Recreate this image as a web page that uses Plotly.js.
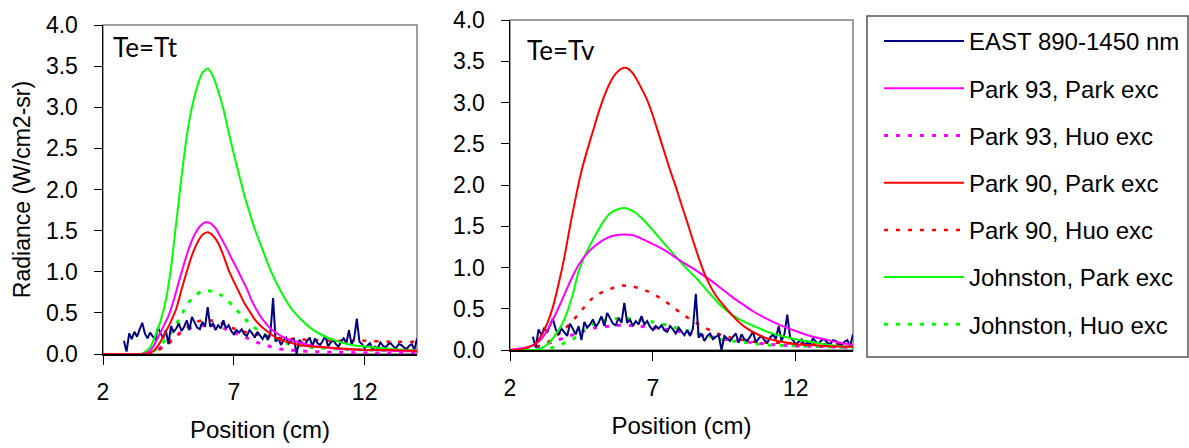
<!DOCTYPE html>
<html>
<head>
<meta charset="utf-8">
<script src="https://cdn.plot.ly/plotly-3.0.1.min.js"></script>
<style>
  html, body { margin: 0; padding: 0; background: #ffffff; }
  #chart { width: 1189px; height: 448px; }
</style>
</head>
<body>
<div id="chart"></div>
<script>
// ---------- Data ----------
var panelTitles = ["Te=Tt", "Te=Tv"];
var seriesNames = ["EAST 890-1450 nm", "Park 93, Park exc", "Park 93, Huo exc",
                   "Park 90, Park exc", "Park 90, Huo exc", "Johnston, Park exc", "Johnston, Huo exc"];
var xTickVals = [2, 7, 12];

// EAST measurement (same in both panels)
var eastX = [2.8,2.9,3.0,3.1,3.2,3.3,3.4,3.5,3.6,3.7,3.8,3.9,4.0,4.1,4.2,4.3,4.4,4.5,4.6,4.7,4.8,4.9,
  5.0,5.1,5.2,5.3,5.4,5.5,5.6,5.7,5.8,5.9,6.0,6.1,6.2,6.3,6.4,6.5,6.6,6.7,6.8,6.9,
  7.0,7.1,7.2,7.3,7.4,7.5,7.6,7.7,7.8,7.9,8.0,8.1,8.2,8.3,8.4,8.5,8.6,8.7,8.8,8.9,
  9.0,9.1,9.2,9.3,9.4,9.5,9.6,9.7,9.8,9.9,10.0,10.1,10.2,10.3,10.4,10.5,10.6,10.7,10.8,10.9,
  11.0,11.1,11.2,11.3,11.4,11.5,11.6,11.7,11.8,11.9,12.0,12.1,12.2,12.3,12.4,12.5,12.6,12.7,12.8,12.9,
  13.0,13.1,13.2,13.3,13.4,13.5,13.6,13.7,13.8,13.9,14.0];
var eastY = [0.16,0.03,0.25,0.18,0.27,0.21,0.30,0.38,0.25,0.19,0.26,0.22,0.17,0.32,0.26,0.19,0.29,0.12,0.34,0.27,0.31,0.37,
  0.28,0.33,0.41,0.29,0.45,0.38,0.32,0.30,0.39,0.33,0.57,0.33,0.37,0.29,0.35,0.31,0.41,0.31,0.35,0.28,
  0.24,0.29,0.26,0.30,0.24,0.22,0.29,0.25,0.20,0.27,0.23,0.18,0.24,0.17,0.26,0.68,0.15,0.20,0.11,0.17,
  0.20,0.13,0.16,0.18,0.00,0.17,0.14,0.11,0.16,0.20,0.09,0.19,0.13,0.11,0.16,0.22,0.09,0.14,0.17,0.12,
  0.09,0.15,0.19,0.13,0.29,0.11,0.19,0.43,0.15,0.12,0.07,0.10,0.13,0.06,0.09,0.07,0.14,0.10,0.08,0.12,
  0.13,0.09,0.07,0.12,0.11,0.08,0.06,0.10,0.12,0.05,0.19];

// ----- Left panel (Te=Tt) -----
var tt_p93park_x = [2.0,3.5,3.7,3.9,4.1,4.3,4.5,4.7,4.9,5.1,5.3,5.5,5.7,5.9,6.1,6.3,6.5,6.7,6.9,7.1,7.3,7.5,7.7,7.9,8.1,8.4,8.7,9.0,9.5,10.0,10.5,11.0,12.0,13.0,14.0];
var tt_p93park_y = [0,0,0.02,0.08,0.2,0.33,0.46,0.65,0.88,1.1,1.3,1.45,1.55,1.6,1.59,1.53,1.42,1.3,1.17,1.05,0.92,0.79,0.64,0.52,0.42,0.31,0.24,0.19,0.14,0.1,0.08,0.06,0.05,0.04,0.03];
var tt_p93huo_x = [3.7,4.0,4.3,4.6,4.9,5.2,5.5,5.8,6.1,6.4,6.7,7.0,7.4,7.8,8.2,8.6,9.0,9.5,10.0,11.0,12.0,13.0,14.0];
var tt_p93huo_y = [0,0.04,0.1,0.18,0.25,0.3,0.33,0.35,0.35,0.33,0.3,0.26,0.21,0.15,0.11,0.07,0.05,0.04,0.03,0.02,0.015,0.01,0.01];
var tt_p90park_x = [2.0,3.6,3.8,4.0,4.2,4.4,4.6,4.8,5.0,5.2,5.4,5.6,5.8,6.0,6.2,6.4,6.6,6.8,7.0,7.2,7.4,7.6,7.8,8.0,8.3,8.6,9.0,9.5,10.0,11.0,12.0,13.0,14.0];
var tt_p90park_y = [0,0,0.01,0.06,0.15,0.27,0.4,0.55,0.78,1.0,1.2,1.35,1.45,1.48,1.44,1.35,1.2,1.02,0.88,0.75,0.62,0.52,0.42,0.35,0.27,0.2,0.15,0.11,0.09,0.07,0.05,0.05,0.04];
var tt_p90huo_x = [3.7,4.0,4.3,4.6,4.9,5.2,5.5,5.8,6.1,6.4,6.7,7.0,7.4,7.8,8.2,8.6,9.0,9.5,10.0,11.0,12.0,13.0,14.0];
var tt_p90huo_y = [0,0.03,0.08,0.15,0.24,0.32,0.38,0.41,0.41,0.39,0.35,0.31,0.27,0.24,0.22,0.2,0.19,0.18,0.17,0.16,0.16,0.15,0.15];
var tt_jpark_x = [2.0,3.0,3.5,3.8,4.0,4.2,4.4,4.6,4.8,5.0,5.2,5.4,5.6,5.8,6.0,6.2,6.4,6.6,6.8,7.0,7.2,7.4,7.6,7.8,8.0,8.4,8.8,9.2,9.6,10.0,10.5,11.0,11.5,12.0,13.0,14.0];
var tt_jpark_y = [0,0,0.005,0.08,0.22,0.4,0.65,1.05,1.6,2.15,2.65,3.0,3.25,3.42,3.47,3.38,3.2,2.98,2.7,2.43,2.18,1.93,1.72,1.52,1.35,1.02,0.76,0.55,0.41,0.3,0.21,0.15,0.11,0.09,0.06,0.04];
var tt_jhuo_x = [3.5,3.9,4.2,4.5,4.7,5.0,5.2,5.5,5.75,6.0,6.25,6.45,6.7,6.95,7.3,7.6,8.0,8.5,9.0,9.5,10.0,11.0,12.0,13.0,14.0];
var tt_jhuo_y = [0,0.03,0.1,0.22,0.31,0.47,0.6,0.7,0.76,0.77,0.76,0.73,0.67,0.59,0.47,0.37,0.27,0.18,0.13,0.1,0.08,0.06,0.05,0.04,0.04];

// ----- Right panel (Te=Tv) -----
var tv_p93park_x = [2.0,2.4,2.8,3.0,3.2,3.4,3.6,3.8,4.0,4.2,4.4,4.6,4.8,5.0,5.2,5.4,5.7,6.0,6.3,6.6,6.9,7.2,7.5,7.8,8.1,8.4,8.7,9.0,9.3,9.6,9.9,10.2,10.5,10.8,11.2,11.6,12.0,12.5,13.0,13.5,14.0];
var tv_p93park_y = [0,0.02,0.06,0.1,0.18,0.3,0.44,0.59,0.75,0.9,1.03,1.13,1.21,1.27,1.32,1.36,1.39,1.4,1.39,1.35,1.3,1.25,1.19,1.12,1.05,0.99,0.92,0.85,0.77,0.69,0.61,0.54,0.47,0.41,0.34,0.28,0.23,0.17,0.13,0.09,0.06];
var tv_p93huo_x = [2.5,3.0,3.5,4.0,4.5,5.0,5.5,6.0,6.5,7.0,7.5,8.0,8.5,9.0,9.5,10.0,10.5,11.0,12.0,13.0,14.0];
var tv_p93huo_y = [0.01,0.04,0.1,0.16,0.22,0.27,0.29,0.3,0.29,0.27,0.25,0.22,0.19,0.16,0.13,0.11,0.09,0.07,0.05,0.04,0.03];
var tv_p90park_x = [2.0,2.4,2.7,2.9,3.1,3.3,3.5,3.7,3.9,4.1,4.3,4.5,4.7,4.9,5.1,5.3,5.5,5.7,5.9,6.05,6.2,6.4,6.6,6.8,7.0,7.2,7.4,7.6,7.8,8.0,8.2,8.4,8.6,8.8,9.0,9.2,9.4,9.6,9.8,10.0,10.3,10.6,11.0,11.5,12.0,12.5,13.0,14.0];
var tv_p90park_y = [0,0.01,0.04,0.08,0.18,0.32,0.52,0.8,1.12,1.5,1.85,2.17,2.42,2.65,2.88,3.08,3.24,3.35,3.41,3.42,3.39,3.3,3.17,3.03,2.84,2.62,2.4,2.18,1.98,1.76,1.55,1.33,1.12,0.93,0.78,0.66,0.57,0.49,0.41,0.34,0.26,0.2,0.14,0.1,0.07,0.06,0.05,0.04];
var tv_p90huo_x = [2.5,3.0,3.4,3.8,4.16,4.43,4.8,5.1,5.5,5.88,6.3,6.69,7.0,7.35,7.7,8.01,8.4,8.71,9.12,9.5,10.0,10.5,11.0,12.0,13.0,14.0];
var tv_p90huo_y = [0.01,0.05,0.11,0.22,0.34,0.45,0.6,0.68,0.74,0.78,0.77,0.73,0.68,0.61,0.52,0.44,0.35,0.29,0.22,0.17,0.13,0.1,0.09,0.08,0.07,0.07];
var tv_jpark_x = [2.0,2.8,3.0,3.2,3.4,3.6,3.8,4.0,4.2,4.4,4.6,4.8,5.0,5.2,5.4,5.6,5.8,6.0,6.2,6.4,6.6,6.8,7.0,7.4,7.8,8.2,8.6,9.0,9.4,9.8,10.2,10.6,11.0,11.5,12.0,12.5,13.0,13.5,14.0];
var tv_jpark_y = [0,0,0.01,0.04,0.1,0.19,0.3,0.46,0.68,0.95,1.13,1.27,1.4,1.52,1.62,1.68,1.71,1.72,1.7,1.66,1.6,1.53,1.45,1.29,1.13,0.98,0.84,0.68,0.53,0.42,0.34,0.28,0.22,0.17,0.13,0.1,0.07,0.05,0.04];
var tv_jhuo_x = [3.0,3.4,3.8,4.2,4.6,5.0,5.4,5.8,6.2,6.6,7.0,7.5,8.0,8.5,9.0,9.5,10.0,10.5,11.0,12.0,13.0,14.0];
var tv_jhuo_y = [0,0.02,0.07,0.13,0.25,0.33,0.37,0.38,0.38,0.36,0.34,0.3,0.25,0.21,0.16,0.12,0.1,0.08,0.06,0.05,0.04,0.03];

// ---------- Styles ----------
var cNavy = "#000080", cMag = "#ff00ff", cRed = "#ff0000", cGreen = "#00ff00";
var dotDash = "4px,8px";

function tr(x, y, name, color, width, dash, ax, show, smooth) {
  return {
    type: "scatter", mode: "lines", x: x, y: y, name: name,
    xaxis: ax[0], yaxis: ax[1],
    legendgroup: name, showlegend: show,
    line: { color: color, width: width, dash: dash || "solid", shape: smooth ? "spline" : "linear", smoothing: 0.6 },
    hoverinfo: "x+y+name"
  };
}

var A1 = ["x", "y"], A2 = ["x2", "y2"];
var data = [
  // left panel
  tr(tt_p93huo_x, tt_p93huo_y, seriesNames[2], cMag, 3, dotDash, A1, false, true),
  tr(tt_p90huo_x, tt_p90huo_y, seriesNames[4], cRed, 2.5, dotDash, A1, false, true),
  tr(tt_jhuo_x, tt_jhuo_y, seriesNames[6], cGreen, 3, dotDash, A1, false, true),
  tr(eastX, eastY, seriesNames[0], cNavy, 2, null, A1, false, false),
  tr(tt_jpark_x, tt_jpark_y, seriesNames[5], cGreen, 2, null, A1, false, true),
  tr(tt_p93park_x, tt_p93park_y, seriesNames[1], cMag, 2, null, A1, false, true),
  tr(tt_p90park_x, tt_p90park_y, seriesNames[3], cRed, 2, null, A1, false, true),
  // right panel (these carry the legend)
  tr(tv_p93huo_x, tv_p93huo_y, seriesNames[2], cMag, 3, dotDash, A2, true, true),
  tr(tv_p90huo_x, tv_p90huo_y, seriesNames[4], cRed, 2.5, dotDash, A2, true, true),
  tr(tv_jhuo_x, tv_jhuo_y, seriesNames[6], cGreen, 3, dotDash, A2, true, true),
  tr(eastX, eastY, seriesNames[0], cNavy, 2, null, A2, true, false),
  tr(tv_jpark_x, tv_jpark_y, seriesNames[5], cGreen, 2, null, A2, true, true),
  tr(tv_p93park_x, tv_p93park_y, seriesNames[1], cMag, 2, null, A2, true, true),
  tr(tv_p90park_x, tv_p90park_y, seriesNames[3], cRed, 2, null, A2, true, true)
];

// legend order as in the reference
var order = {};
seriesNames.forEach(function (n, i) { order[n] = i; });
data.forEach(function (t) { t.legendrank = order[t.name] + 1; });

var W = 1189, H = 448;
function px(v) { return v / W; }
function py(v) { return 1 - v / H; }

var fontMain = "'Liberation Sans', Arial, sans-serif";
function xAxis(dom, anchor) {
  return {
    domain: dom, anchor: anchor, range: [2, 14], tickvals: xTickVals,
    ticks: "outside", ticklen: 9, tickwidth: 1, tickcolor: "#000",
    showline: true, linecolor: "#000", linewidth: 1.5, showgrid: false, zeroline: false,
    tickfont: { family: fontMain, size: 23, color: "#000" }, ticklabelstandoff: 8,
    title: { text: "Position (cm)", font: { family: fontMain, size: 24, color: "#000" }, standoff: 17 },
    fixedrange: true
  };
}
function yAxis(dom, anchor, title) {
  var a = {
    domain: dom, anchor: anchor, range: [0, 4.0], dtick: 0.5, tick0: 0, tickformat: ".1f",
    ticks: "outside", ticklen: 8, tickwidth: 1, tickcolor: "#000",
    showline: true, linecolor: "#000", linewidth: 1.5, showgrid: false, zeroline: false,
    tickfont: { family: fontMain, size: 23, color: "#000" }, ticklabelstandoff: 11,
    fixedrange: true
  };
  if (title) a.title = { text: title, font: { family: fontMain, size: 23, color: "#000" }, standoff: 9 };
  return a;
}

var layout = {
  width: W, height: H,
  margin: { l: 0, r: 0, t: 0, b: 0 },
  paper_bgcolor: "#ffffff", plot_bgcolor: "rgba(0,0,0,0)",
  showlegend: true,
  xaxis: xAxis([px(103), px(417)], "y"),
  yaxis: yAxis([1 - 354 / H, 1 - 25 / H], "x", "Radiance (W/cm2-sr)"),
  xaxis2: xAxis([px(510), px(853)], "y2"),
  yaxis2: yAxis([1 - 350 / H, 1 - 20 / H], "x2", null),
  legend: {
    x: px(879), y: py(19), xanchor: "left", yanchor: "top",
    bgcolor: "rgba(0,0,0,0)", borderwidth: 0,
    traceorder: "grouped", tracegroupgap: 13, itemwidth: 80,
    font: { family: fontMain, size: 24, color: "#000" }
  },
  shapes: [
    // grey plot frames (top and right edges)
    { type: "rect", xref: "x domain", yref: "y domain", x0: 0, x1: 1, y0: 0, y1: 1,
      line: { color: "#808080", width: 1.5 }, layer: "below" },
    { type: "rect", xref: "x2 domain", yref: "y2 domain", x0: 0, x1: 1, y0: 0, y1: 1,
      line: { color: "#808080", width: 1.5 }, layer: "below" },
    // legend box
    { type: "rect", xref: "paper", yref: "paper", x0: px(867), x1: px(1188), y0: py(357), y1: py(16),
      line: { color: "#555555", width: 1.5 } }
  ],
  annotations: [
    { text: panelTitles[0], xref: "paper", yref: "paper", x: px(111), y: py(47), xanchor: "left", yanchor: "middle",
      showarrow: false, font: { family: "Lato, 'Open Sans', sans-serif", size: 26, color: "#000" } },
    { text: panelTitles[1], xref: "paper", yref: "paper", x: px(525), y: py(50), xanchor: "left", yanchor: "middle",
      showarrow: false, font: { family: "Lato, 'Open Sans', sans-serif", size: 26, color: "#000" } }
  ]
};

Plotly.newPlot("chart", data, layout, { displayModeBar: false, staticPlot: true });
</script>
</body>
</html>
